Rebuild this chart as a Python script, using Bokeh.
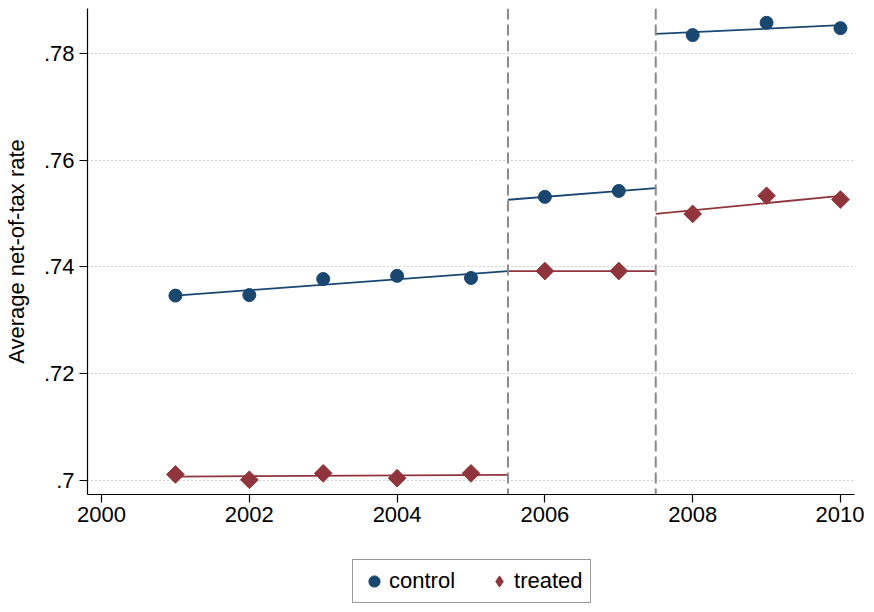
import numpy as np
from bokeh.plotting import figure
from bokeh.layouts import column
from bokeh.models import (ColumnDataSource, Span, Legend, LegendItem,
                          FixedTicker, CustomJSTickFormatter)
from bokeh.embed import file_html
from bokeh.resources import INLINE

# data
years = [2001, 2002, 2003, 2004, 2005, 2006, 2007, 2008, 2009, 2010]
control = [0.7346, 0.7347, 0.7377, 0.7383, 0.7379, 0.7531, 0.7542, 0.7834, 0.7857, 0.7847]
treated = [0.7011, 0.7001, 0.7013, 0.7004, 0.7013, 0.7392, 0.7392, 0.7499, 0.7533, 0.7526]
# period edges for the separate linear fits (reform years between)
period_edges = [2001, 2005.5, 2007.5, 2010]
x_ticks = [2000, 2002, 2004, 2006, 2008, 2010]
y_ticks = [0.70, 0.72, 0.74, 0.76, 0.78]
groups = ["control", "treated"]

NAVY = "#1a476f"
MAROON = "#90353b"
FONT = "Liberation Sans"

p = figure(width=864, height=534, output_backend="svg", toolbar_location=None,
           x_range=(1999.81, 2010.19), y_range=(0.69734, 0.78838),
           min_border_left=80, min_border_right=10, min_border_top=8, min_border_bottom=40)
p.outline_line_color = None
p.background_fill_color = "white"
p.border_fill_color = "white"

# axes styling (stata-ish)
p.xaxis.ticker = FixedTicker(ticks=x_ticks)
p.yaxis.ticker = FixedTicker(ticks=y_ticks)
p.yaxis.formatter = CustomJSTickFormatter(
    code="return tick.toFixed(2).replace(/^0/, '').replace(/0$/, '')")
for ax in (p.xaxis, p.yaxis):
    ax.axis_line_color = "black"
    ax.axis_line_width = 1.2
    ax.major_tick_line_color = "black"
    ax.major_tick_line_width = 1.2
    ax.major_tick_out = 8
    ax.major_tick_in = 0
    ax.minor_tick_line_color = None
    ax.major_label_text_font = FONT
    ax.major_label_text_font_size = "22px"
    ax.major_label_text_color = "black"
p.xaxis.major_label_standoff = 4
p.yaxis.major_label_standoff = 5
p.yaxis.axis_label = "Average net-of-tax rate"
p.yaxis.axis_label_text_font = FONT
p.yaxis.axis_label_text_font_size = "22px"
p.yaxis.axis_label_text_font_style = "normal"
p.yaxis.axis_label_text_color = "black"
p.yaxis.axis_label_standoff = 12

p.xgrid.grid_line_color = None
p.ygrid.grid_line_color = "#a8a8a8"
p.ygrid.grid_line_dash = "1 3"
p.ygrid.grid_line_width = 1

# reform dashed lines
for edge in period_edges[1:-1]:
    p.add_layout(Span(location=edge, dimension="height", line_color="#8a8a8a",
                      line_dash="11 5", line_width=2))

yrs = np.array(years, dtype=float)
# linear fit in each period
for series, col in ((control, NAVY), (treated, MAROON)):
    vals = np.array(series)
    for lo, hi in zip(period_edges[:-1], period_edges[1:]):
        mask = (yrs >= lo) & (yrs <= hi)
        slope, icpt = np.polyfit(yrs[mask], vals[mask], 1)
        xs = [lo, hi]
        p.line(xs, [slope * x + icpt for x in xs], line_color=col, line_width=1.8)

src = ColumnDataSource(dict(year=years, control=control, treated=treated))
p.scatter("year", "control", source=src, marker="circle", size=13,
          fill_color=NAVY, line_color=NAVY)
p.scatter("year", "treated", source=src, marker="square", size=12.5, angle=np.pi / 4,
          fill_color=MAROON, line_color=MAROON)

# legend strip under the chart (own small figure so the box is not clipped);
# its renderers hold the same data but the ranges keep them out of view
leg_fig = figure(width=864, height=70, output_backend="svg", toolbar_location=None,
                 min_border=0, x_axis_type=None, y_axis_type=None,
                 x_range=(0, 1), y_range=(0, 1))
leg_fig.outline_line_color = None
leg_fig.xgrid.grid_line_color = None
leg_fig.ygrid.grid_line_color = None
lr_c = leg_fig.scatter("year", "control", source=src, marker="circle",
                       fill_color=NAVY, line_color=NAVY)
lr_t = leg_fig.scatter("year", "treated", source=src, marker="diamond",
                       fill_color=MAROON, line_color=MAROON)

legend = Legend(items=[LegendItem(label=groups[0], renderers=[lr_c]),
                       LegendItem(label=groups[1], renderers=[lr_t])],
                orientation="horizontal", location=(265, 1))
legend.label_text_font = FONT
legend.label_text_font_size = "22px"
legend.label_text_color = "black"
legend.border_line_color = "#333333"
legend.border_line_width = 1
legend.padding = 7
legend.margin = 0
legend.spacing = 30
legend.glyph_width = 28
legend.glyph_height = 28
legend.label_standoff = 1
legend.background_fill_alpha = 1
leg_fig.add_layout(legend, "center")

layout = column(p, leg_fig, spacing=0)
open("out.html", "w").write(file_html(layout, INLINE))
